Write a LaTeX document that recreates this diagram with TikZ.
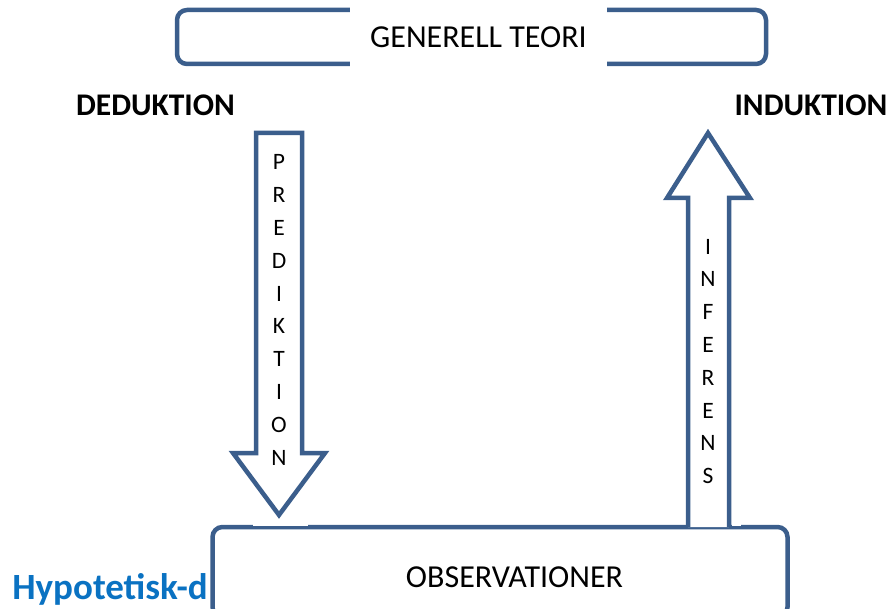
\documentclass[tikz,border=0pt]{standalone}
\usepackage{fontspec}
\setmainfont{Carlito}
\usepackage{tikz}
\usetikzlibrary{positioning}
\definecolor{boxblue}{HTML}{3B5E8C}
\definecolor{hdblue}{HTML}{0A72C2}

\begin{document}
\begin{tikzpicture}[
    x=1pt, y=-1pt,
    every node/.style={inner sep=0pt},
    frame/.style={draw=boxblue, line width=4.5pt, rounded corners=10pt, fill=white},
    blockarrow/.style={draw=boxblue, line width=4.5pt, fill=white, line join=miter},
    boxtext/.style={fill=white, font=\fontsize{32}{38}\selectfont},
    heading/.style={font=\fontsize{31.5}{38}\selectfont\bfseries},
    spelled/.style={align=center, font=\fontsize{23.5}{32.8}\selectfont}
]
    \useasboundingbox (0,0) rectangle (889,609);

    % Top box: the general theory
    \node[frame, minimum width=589pt, minimum height=54pt] (teori) at (471.5,37) {};
    \node[boxtext, minimum width=257pt, minimum height=63pt] (teorilabel) at (478.5,37) {GENERELL TEORI};

    % Headings on both sides
    \node[heading] (deduktion) at (155.5,105) {DEDUKTION};
    \node[heading] (induktion) at (811,105) {INDUKTION};

    % Caption partly hidden by the bottom box
    \node[anchor=base east, text=hdblue, font=\fontsize{37}{44}\selectfont\bfseries] (hd) at (208,599) {Hypotetisk-d};

    % Bottom box: the observations
    \node[frame, minimum width=575pt, minimum height=90pt] (obs) at (500,572) {};
    \node[font=\fontsize{32}{38}\selectfont] (obslabel) at (514.5,577) {OBSERVATIONER};

    % Down arrow (prediction) and up arrow (inference)
    \draw[blockarrow] (256,133) -- (302,133) -- (302,453) -- (325,453) -- (279,515)
        -- (233,453) -- (256,453) -- cycle;
    \draw[blockarrow] (688,527) -- (688,198) -- (667,198) -- (708,133) -- (750,198)
        -- (729,198) -- (729,527);
    \fill[white] (253,521) rectangle (308,526);
    \fill[white] (731.5,521) rectangle (741,526);

    \node[spelled] (prediktion) at (279,310) {P\\R\\E\\D\\I\\K\\T\\I\\O\\N};
    \node[spelled] (inferens) at (708,361.5) {I\\N\\F\\E\\R\\E\\N\\S};
\end{tikzpicture}
\end{document}
